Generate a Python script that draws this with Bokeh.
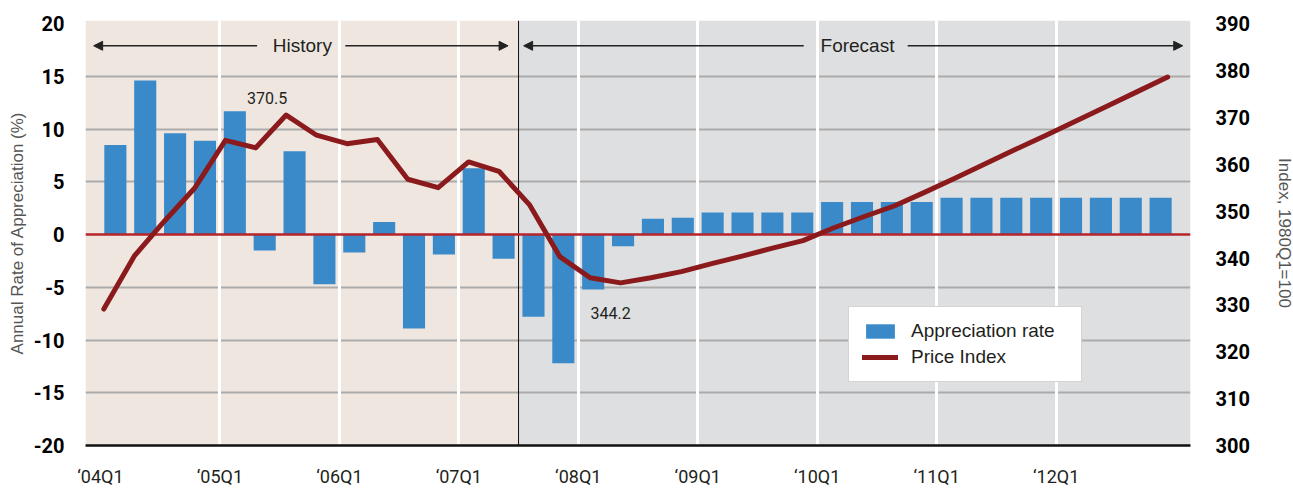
from bokeh.plotting import figure
from bokeh.models import (Range1d, LinearAxis, FixedTicker, Span, BoxAnnotation, Label,
                          Arrow, NormalHead, Legend, LegendItem, ColumnDataSource)
from bokeh.embed import file_html
from bokeh.resources import INLINE

quarters = ["04Q1", "04Q2", "04Q3", "04Q4", "05Q1", "05Q2", "05Q3", "05Q4",
            "06Q1", "06Q2", "06Q3", "06Q4", "07Q1", "07Q2", "07Q3", "07Q4",
            "08Q1", "08Q2", "08Q3", "08Q4", "09Q1", "09Q2", "09Q3", "09Q4",
            "10Q1", "10Q2", "10Q3", "10Q4", "11Q1", "11Q2", "11Q3", "11Q4",
            "12Q1", "12Q2", "12Q3", "12Q4"]
appreciation = [8.5, 14.6, 9.6, 8.9, 11.7, -1.5, 7.9, -4.7, -1.7, 1.2, -8.9, -1.9,
                6.3, -2.3, -7.8, -12.2, -5.2, -1.1, 1.5, 1.6, 2.1, 2.1, 2.1, 2.1,
                3.1, 3.1, 3.1, 3.1, 3.5, 3.5, 3.5, 3.5, 3.5, 3.5, 3.5, 3.5]
price_index = [329.1, 340.4, 347.9, 355.0, 365.1, 363.5, 370.5, 366.2, 364.4, 365.3,
               356.8, 355.0, 360.5, 358.5, 351.4, 340.3, 335.8, 334.7, 335.8, 337.1,
               338.8, 340.4, 342.1, 343.7, 346.4, 348.8, 351.1, 354.0, 357.0, 360.1,
               363.2, 366.2, 369.3, 372.4, 375.5, 378.6]
left_ticks = [-20, -15, -10, -5, 0, 5, 10, 15, 20]
right_ticks = [300, 310, 320, 330, 340, 350, 360, 370, 380, 390]
history_end = "07Q2"
peak_label = "370.5"
trough_label = "344.2"

idx = list(range(len(quarters)))
src = ColumnDataSource(data=dict(x=idx, q=quarters, rate=appreciation, price=price_index))

NUM = "Roboto"
SANS = "'Liberation Sans', Arial, sans-serif"
TXT = "#231F20"

p = figure(frame_width=1105, frame_height=425, min_border_left=85, min_border_top=20,
           min_border_right=88, min_border_bottom=41,
           x_range=Range1d(-1, 36), y_range=Range1d(-20, 20.3),
           output_backend="svg", toolbar_location=None, tools="")
p.outline_line_color = None
p.background_fill_color = "white"
p.border_fill_color = "white"

p.extra_y_ranges = {"idx": Range1d(300, 390.675)}
p.extra_x_ranges = {"line": Range1d(-0.602, 35.75)}

# backgrounds
split = quarters.index(history_end) + 0.5
p.add_layout(BoxAnnotation(right=split, fill_color="#EFE6E0", fill_alpha=1, line_color=None, level="image"))
p.add_layout(BoxAnnotation(left=split, fill_color="#DEDFE1", fill_alpha=1, line_color=None, level="image"))

# grids
year_bounds = [i - 0.5 for i, q in enumerate(quarters) if q.endswith("Q1")]
p.xgrid.ticker = FixedTicker(ticks=year_bounds[1:])
p.xgrid.grid_line_color = "white"
p.xgrid.grid_line_width = 3
p.ygrid.ticker = FixedTicker(ticks=[t for t in left_ticks if t not in (0, -20, 20)])
p.ygrid.grid_line_color = "#ABABAB"
p.ygrid.grid_line_width = 2
xg = p.xgrid[0]
yg = p.ygrid[0]
p.center = [yg, xg] + [r for r in p.center if r is not xg and r is not yg]

# divider
p.add_layout(Span(location=split, dimension="height", line_color="#111111", line_width=1, level="underlay"))

bars = p.vbar(x="x", top="rate", bottom=0, width=0.74, source=src,
              fill_color="#3A8AC9", line_color=None)
p.add_layout(Span(location=0, dimension="width", line_color="#B5252B", line_width=2.5, level="guide"))
line = p.line(x="x", y="price", source=src, x_range_name="line", y_range_name="idx",
              line_color="#8B1A1C", line_width=5, line_join="round", line_cap="round",
              level="annotation")

# axes
ya = p.yaxis[0]
ya.ticker = FixedTicker(ticks=left_ticks)
ya.major_label_overrides = {t: str(t) for t in left_ticks}
ya.axis_label = "Annual Rate of Appreciation (%)"
ya.major_label_standoff = 21
ya.axis_label_standoff = 4

yr = LinearAxis(y_range_name="idx", ticker=FixedTicker(ticks=right_ticks),
                axis_label="Index, 1980Q1=100")
p.add_layout(yr, "right")
yr.major_label_standoff = 25
yr.axis_label_standoff = 22

for ax in [ya, yr]:
    ax.axis_line_color = None
    ax.major_tick_line_color = None
    ax.minor_tick_line_color = None
    ax.major_tick_out = 0
    ax.major_tick_in = 0
    ax.minor_tick_out = 0
    ax.major_label_text_font = NUM
    ax.major_label_text_font_style = "bold"
    ax.major_label_text_font_size = "20px"
    ax.major_label_text_color = "black"
    ax.axis_label_text_font = SANS
    ax.axis_label_text_font_style = "normal"
    ax.axis_label_text_font_size = "17px"
    ax.axis_label_text_color = "#555555"

xa = p.xaxis[0]
xa.ticker = FixedTicker(ticks=year_bounds)
xa.major_label_overrides = {b: "\u2018" + quarters[int(b + 0.5)] for b in year_bounds}
xa.axis_line_color = "#111111"
xa.axis_line_width = 2.5
xa.major_tick_line_color = None
xa.minor_tick_line_color = None
xa.major_tick_out = 0
xa.major_tick_in = 0
xa.minor_tick_out = 0
xa.major_label_standoff = 20
xa.major_label_text_font = NUM
xa.major_label_text_font_size = "18px"
xa.major_label_text_color = TXT

# History / Forecast arrows
AY = 17.9
head = dict(size=9, fill_color="#222222", line_color="#222222")
for xs, xe in [(4.745, -0.727), (7.70, 13.15), (23.05, 13.67), (26.53, 35.74)]:
    p.add_layout(Arrow(end=NormalHead(**head), x_start=xs, y_start=AY, x_end=xe, y_end=AY,
                       line_color="#222222", line_width=1.5))
p.add_layout(Label(x=6.26, y=AY, text="History", text_align="center", text_baseline="middle",
                   text_font=SANS, text_font_size="19px", text_color=TXT))
p.add_layout(Label(x=24.85, y=AY, text="Forecast", text_align="center", text_baseline="middle",
                   text_font=SANS, text_font_size="19px", text_color=TXT))

# value labels
n_hist = quarters.index(history_end) + 1
hist = price_index[:n_hist]
pk = hist.index(max(hist))
p.add_layout(Label(x=pk, y=price_index[pk], x_range_name="line", y_range_name="idx",
                   x_offset=-19, y_offset=17, text=peak_label, text_align="center",
                   text_baseline="middle", text_font=NUM, text_font_size="16px", text_color=TXT))
fc = price_index[n_hist:]
tr = n_hist + fc.index(min(fc))
p.add_layout(Label(x=tr, y=price_index[tr], x_range_name="line", y_range_name="idx",
                   x_offset=-10, y_offset=-30, text=trough_label, text_align="center",
                   text_baseline="middle", text_font=NUM, text_font_size="16px", text_color=TXT))

legend = Legend(items=[LegendItem(label="Appreciation rate", renderers=[bars]),
                       LegendItem(label="Price Index", renderers=[line])],
                location=(763, 63), margin=0, padding=13, spacing=4,
                glyph_width=36, glyph_height=18, label_standoff=13, label_width=157,
                label_text_font=SANS, label_text_font_size="19px", label_text_color=TXT,
                border_line_color="#A8A8A8", border_line_width=1.5,
                background_fill_color="white", background_fill_alpha=1)
p.add_layout(legend, "center")

open("out.html", "w").write(file_html(p, INLINE))
